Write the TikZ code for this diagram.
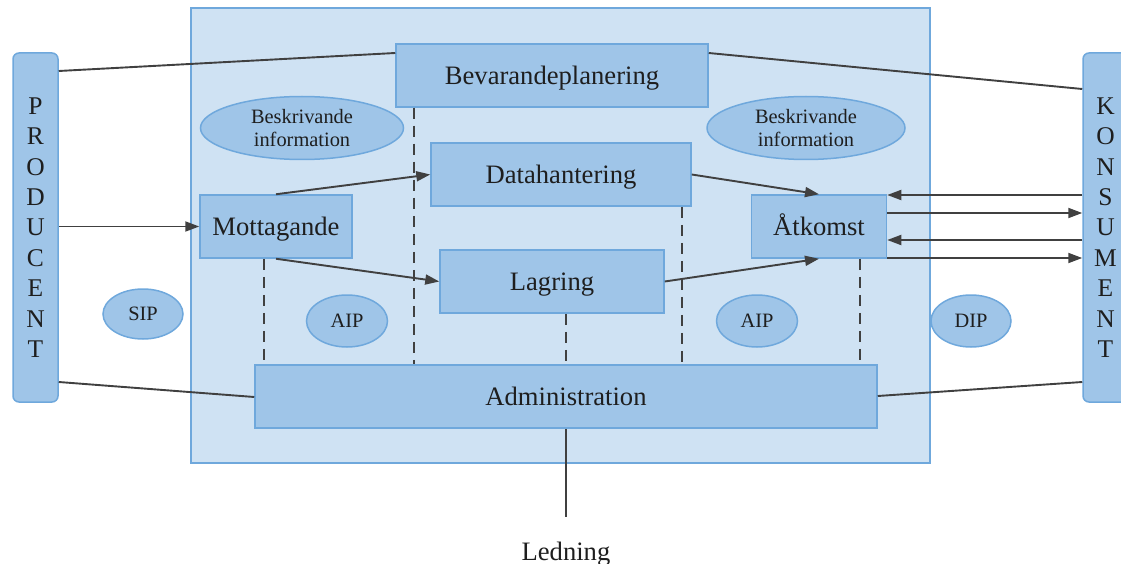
\documentclass[tikz,border=0pt]{standalone}
\usepackage{fontspec}
\setmainfont{Liberation Serif}
\usetikzlibrary{arrows.meta,shapes.geometric}
\definecolor{areafill}{HTML}{CFE2F3}
\definecolor{boxfill}{HTML}{9FC5E8}
\definecolor{boxline}{HTML}{6FA8DC}
\definecolor{wire}{HTML}{404040}
\definecolor{ink}{HTML}{1E1E1E}
\begin{document}
\begin{tikzpicture}[x=1pt,y=-1pt,
  func/.style={draw=boxline,line width=1.5pt,fill=boxfill,inner sep=0pt,
    text height=18.5pt,text depth=0pt,
    text=ink,font=\fontsize{26.6}{30}\selectfont,minimum height=63pt},
  party/.style={draw=boxline,line width=1.5pt,fill=boxfill,rounded corners=6pt,
    inner sep=0pt,minimum width=45pt,minimum height=349pt,text=ink,align=center,
    font=\fontsize{25.5}{30.4}\selectfont},
  pkg/.style={ellipse,draw=boxline,line width=1.5pt,fill=boxfill,inner sep=0pt,
    text=ink,font=\fontsize{20.4}{23.5}\selectfont,align=center},
  conn/.style={draw=wire,line width=1.9pt},
  flow/.style={conn,-{Triangle[length=14pt,width=10pt]}},
  link/.style={conn,dash pattern=on 11pt off 7pt}]
\useasboundingbox (0,0) rectangle (1121,564);

% archive area
\draw[draw=boxline,line width=2.4pt,fill=areafill] (191,8) rectangle (930,463);

% external parties
\node[party] (prod) at (35.5,227.5) {P\\R\\O\\D\\U\\C\\E\\N\\T};
\node[party] (kons) at (1105.5,227.5) {K\\O\\N\\S\\U\\M\\E\\N\\T};

% functional entities
\node[func,minimum width=312pt] (bev) at (552,75.5) {Bevarandeplanering};
\node[func,minimum width=260pt] (data) at (561,174.5) {Datahantering};
\node[func,minimum width=152pt] (mott) at (276,226.5) {Mottagande};
\node[func,minimum width=224pt] (lag) at (552,281.5) {Lagring};
\node[func,minimum width=135pt] (atk) at (819,226.5) {Åtkomst};
\node[func,minimum width=622pt] (adm) at (566,396.5) {Administration};

% information packages
\node[pkg,minimum width=203pt,minimum height=63pt] (besk1) at (302,128) {Beskrivande\\information};
\node[pkg,minimum width=198pt,minimum height=63pt] (besk2) at (806,128) {Beskrivande\\information};
\node[pkg,minimum width=80pt,minimum height=50pt] (sip) at (143,314) {SIP};
\node[pkg,minimum width=81pt,minimum height=52pt] (aip1) at (347,321) {AIP};
\node[pkg,minimum width=81pt,minimum height=52pt] (aip2) at (757,321) {AIP};
\node[pkg,minimum width=80pt,minimum height=52pt] (dip) at (971,321) {DIP};

% management label
\node[text=ink,font=\fontsize{26.6}{30}\selectfont,anchor=base,inner xsep=0pt,inner ysep=24pt] (led) at (566,560) {Ledning};

% plain connections
\draw[conn] (prod.east |- 0,71) -- (bev.west |- 0,53);
\draw[conn] (bev.east |- 0,53) -- (kons.west |- 0,89);
\draw[conn] (prod.east |- 0,382) -- (adm.west |- 0,397);
\draw[conn] (adm.east |- 0,396) -- (kons.west |- 0,382);
\draw[conn] (adm.south) -- (led.north);

% data flows
\draw[flow] (prod.east |- mott.west) -- (mott.west);
\draw[flow] (mott.north) -- (data.west);
\draw[flow] (mott.south) -- (lag.west);
\draw[flow] (data.east) -- (atk.north);
\draw[flow] (lag.east) -- (atk.south);
\draw[flow] (kons.west |- 0,195) -- (atk.east |- 0,195);
\draw[flow] (atk.east |- 0,213) -- (kons.west |- 0,213);
\draw[flow] (kons.west |- 0,240) -- (atk.east |- 0,240);
\draw[flow] (atk.east |- 0,258) -- (kons.west |- 0,258);

% administration links
\draw[link] (mott.south -| 264,0) -- (adm.north -| 264,0);
\draw[link] (bev.south -| 414,0) -- (adm.north -| 414,0);
\draw[link] (lag.south -| adm.north) -- (adm.north);
\draw[link] (data.south -| 682,0) -- (adm.north -| 682,0);
\draw[link] (atk.south -| 860,0) -- (adm.north -| 860,0);
\end{tikzpicture}
\end{document}
